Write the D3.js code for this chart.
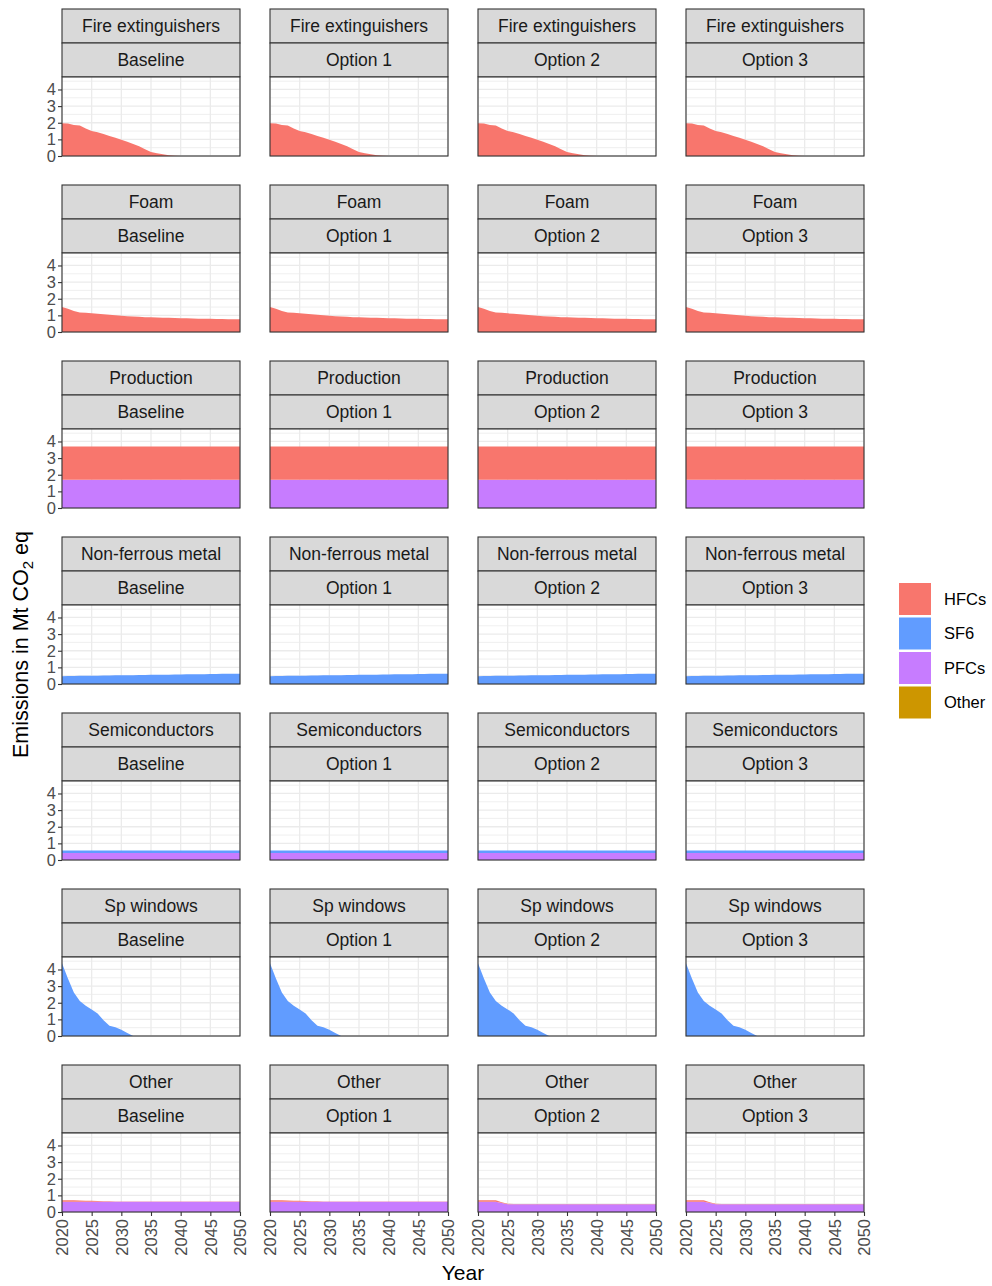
<!DOCTYPE html>
<html>
<head>
<meta charset="utf-8">
<script src="https://cdn.jsdelivr.net/npm/d3@7"></script>
<style>
  html, body { margin: 0; padding: 0; background: #fff; }
  svg { display: block; font-family: "Liberation Sans", Arial, sans-serif; }
</style>
</head>
<body>
<svg id="chart" width="992" height="1286"></svg>
<script>
// ---------------- DATA ----------------
const years = [2020,2021,2022,2023,2024,2025,2026,2027,2028,2029,2030,
               2031,2032,2033,2034,2035,2036,2037,2038,2039,2040,
               2041,2042,2043,2044,2045,2046,2047,2048,2049,2050];
const sectors = ["Fire extinguishers","Foam","Production","Non-ferrous metal","Semiconductors","Sp windows","Other"];
const scenarios = ["Baseline","Option 1","Option 2","Option 3"];
const gases = ["HFCs","SF6","PFCs","Other"];
const gasColors = ["#F8766D","#619CFF","#C77CFF","#CD9600"];
const xTicks = [2020,2025,2030,2035,2040,2045,2050];
const yTicks = [0,1,2,3,4];
const yMinor = [0.5,1.5,2.5,3.5,4.5];

// values by year (2020..2050)
const fireHFC = [1.97,1.95,1.86,1.83,1.65,1.50,1.43,1.32,1.21,1.09,0.97,
                 0.85,0.72,0.58,0.40,0.24,0.16,0.10,0.05,0.01,0,
                 0,0,0,0,0,0,0,0,0,0];
const foamHFC = [1.50,1.40,1.27,1.18,1.15,1.12,1.09,1.06,1.03,1.00,0.97,
                 0.95,0.93,0.91,0.89,0.88,0.87,0.86,0.85,0.84,0.83,
                 0.82,0.81,0.80,0.80,0.79,0.78,0.78,0.77,0.77,0.76];
const prodHFC = [2.0,2.0,2.0,2.0,2.0,2.0,2.0,2.0,2.0,2.0,2.0,
                 2.0,2.0,2.0,2.0,2.0,2.0,2.0,2.0,2.0,2.0,
                 2.0,2.0,2.0,2.0,2.0,2.0,2.0,2.0,2.0,2.0];
const prodPFC = [1.7,1.7,1.7,1.7,1.7,1.7,1.7,1.7,1.7,1.7,1.7,
                 1.7,1.7,1.7,1.7,1.7,1.7,1.7,1.7,1.7,1.7,
                 1.7,1.7,1.7,1.7,1.7,1.7,1.7,1.7,1.7,1.7];
const metalSF6 = [0.47,0.48,0.48,0.49,0.49,0.50,0.50,0.51,0.51,0.52,0.52,
                  0.53,0.53,0.54,0.54,0.55,0.55,0.56,0.56,0.57,0.57,
                  0.58,0.58,0.59,0.59,0.60,0.60,0.61,0.61,0.62,0.62];
const semiPFC = [0.42,0.42,0.42,0.42,0.42,0.42,0.42,0.42,0.42,0.42,0.42,
                 0.42,0.42,0.42,0.42,0.42,0.42,0.42,0.42,0.42,0.42,
                 0.42,0.42,0.42,0.42,0.42,0.42,0.42,0.42,0.42,0.42];
const semiSF6 = [0.15,0.15,0.15,0.15,0.15,0.15,0.15,0.15,0.15,0.15,0.15,
                 0.15,0.15,0.15,0.15,0.15,0.15,0.15,0.15,0.15,0.15,
                 0.15,0.15,0.15,0.15,0.15,0.15,0.15,0.15,0.15,0.15];
const windowSF6 = [4.37,3.45,2.62,2.10,1.82,1.60,1.35,0.95,0.62,0.52,0.38,
                   0.18,0,0,0,0,0,0,0,0,0,
                   0,0,0,0,0,0,0,0,0,0];
const otherPFC_base = [0.61,0.61,0.61,0.61,0.61,0.61,0.61,0.61,0.61,0.61,0.61,
                       0.61,0.61,0.61,0.61,0.61,0.61,0.61,0.61,0.61,0.61,
                       0.61,0.61,0.61,0.61,0.61,0.61,0.61,0.61,0.61,0.61];
const otherHFC_base = [0.10,0.10,0.09,0.08,0.07,0.06,0.05,0.04,0.03,0.02,0.02,
                       0.02,0.02,0.02,0.02,0.02,0.02,0.02,0.02,0.02,0.02,
                       0.02,0.02,0.02,0.02,0.02,0.02,0.02,0.02,0.02,0.02];
const otherPFC_opt = [0.61,0.61,0.61,0.61,0.54,0.47,0.47,0.47,0.47,0.47,0.47,
                      0.47,0.47,0.47,0.47,0.47,0.47,0.47,0.47,0.47,0.47,
                      0.47,0.47,0.47,0.47,0.47,0.47,0.47,0.47,0.47,0.47];
const otherHFC_opt = [0.10,0.10,0.10,0.10,0.05,0.02,0.01,0.01,0.01,0.01,0.01,
                      0.01,0.01,0.01,0.01,0.01,0.01,0.01,0.01,0.01,0.01,
                      0.01,0.01,0.01,0.01,0.01,0.01,0.01,0.01,0.01,0.01];
const zeros = [0,0,0,0,0,0,0,0,0,0,0,0,0,0,0,0,0,0,0,0,0,0,0,0,0,0,0,0,0,0,0];

// series per sector & scenario: {HFCs, SF6, PFCs, Other}
function seriesFor(sector, scenario) {
  switch (sector) {
    case "Fire extinguishers": return {HFCs: fireHFC, SF6: zeros, PFCs: zeros, Other: zeros};
    case "Foam": return {HFCs: foamHFC, SF6: zeros, PFCs: zeros, Other: zeros};
    case "Production": return {HFCs: prodHFC, SF6: zeros, PFCs: prodPFC, Other: zeros};
    case "Non-ferrous metal": return {HFCs: zeros, SF6: metalSF6, PFCs: zeros, Other: zeros};
    case "Semiconductors": return {HFCs: zeros, SF6: semiSF6, PFCs: semiPFC, Other: zeros};
    case "Sp windows": return {HFCs: zeros, SF6: windowSF6, PFCs: zeros, Other: zeros};
    case "Other":
      if (scenario === "Option 2" || scenario === "Option 3")
        return {HFCs: otherHFC_opt, SF6: zeros, PFCs: otherPFC_opt, Other: zeros};
      return {HFCs: otherHFC_base, SF6: zeros, PFCs: otherPFC_base, Other: zeros};
  }
}

// ---------------- LAYOUT ----------------
const svg = d3.select("#chart");
const panelW = 178, panelH = 79, stripH = 34;
const colX0 = 62, colStep = 208;
const rowY0 = 9, rowStep = 176;
const yMax = 4.75;

const x = d3.scaleLinear().domain([2020, 2050]).range([0, panelW]);
const y = d3.scaleLinear().domain([0, yMax]).range([panelH, 0]);
const color = d3.scaleOrdinal().domain(gases).range(gasColors);

const stackOrder = ["Other","PFCs","SF6","HFCs"]; // bottom -> top
const stack = d3.stack().keys(stackOrder);
const area = d3.area()
  .x(d => x(d.data.year))
  .y0(d => y(d[0]))
  .y1(d => y(d[1]));

sectors.forEach((sector, r) => {
  scenarios.forEach((scen, c) => {
    const gx = colX0 + c * colStep;
    const gy = rowY0 + r * rowStep;
    const g = svg.append("g").attr("transform", `translate(${gx},${gy})`);

    // strips
    [sector, scen].forEach((lab, i) => {
      g.append("rect")
        .attr("x", 0).attr("y", i * stripH)
        .attr("width", panelW).attr("height", stripH)
        .attr("fill", "#D9D9D9").attr("stroke", "#333333").attr("stroke-width", 1.1);
      g.append("text")
        .attr("x", panelW / 2).attr("y", i * stripH + stripH / 2)
        .attr("dy", "0.36em")
        .attr("text-anchor", "middle")
        .attr("font-size", 17.5)
        .attr("fill", "#1A1A1A")
        .text(lab);
    });

    const p = g.append("g").attr("transform", `translate(0,${2 * stripH})`);
    p.append("rect").attr("width", panelW).attr("height", panelH).attr("fill", "#fff");

    // grid
    p.selectAll(".ymin").data(yMinor.filter(v => v < yMax)).enter().append("line")
      .attr("x1", 0).attr("x2", panelW)
      .attr("y1", d => y(d)).attr("y2", d => y(d))
      .attr("stroke", "#EBEBEB").attr("stroke-width", 0.8);
    p.selectAll(".ymaj").data(yTicks).enter().append("line")
      .attr("x1", 0).attr("x2", panelW)
      .attr("y1", d => y(d)).attr("y2", d => y(d))
      .attr("stroke", "#EBEBEB").attr("stroke-width", 1.3);
    p.selectAll(".xmaj").data(xTicks).enter().append("line")
      .attr("y1", 0).attr("y2", panelH)
      .attr("x1", d => x(d)).attr("x2", d => x(d))
      .attr("stroke", "#EBEBEB").attr("stroke-width", 1.3);

    // data
    const s = seriesFor(sector, scen);
    const rows = years.map((yr, i) => ({
      year: yr, HFCs: s.HFCs[i], SF6: s.SF6[i], PFCs: s.PFCs[i], Other: s.Other[i]
    }));
    const layers = stack(rows);
    p.selectAll(".layer").data(layers).enter().append("path")
      .attr("d", area)
      .attr("fill", d => color(d.key));

    // border
    p.append("rect").attr("width", panelW).attr("height", panelH)
      .attr("fill", "none").attr("stroke", "#333333").attr("stroke-width", 1.1);

    if (c === 0) {
      const ya = p.append("g").call(d3.axisLeft(y).tickValues(yTicks).tickSize(4).tickPadding(2).tickFormat(d3.format("d")));
      ya.select(".domain").remove();
      ya.selectAll(".tick line").attr("stroke", "#333333").attr("stroke-width", 1.1);
      ya.selectAll(".tick text").attr("fill", "#4D4D4D").attr("font-size", 16.5)
        .attr("font-family", "Liberation Sans, Arial, sans-serif");
    }
    if (r === sectors.length - 1) {
      const xa = p.append("g").attr("transform", `translate(0,${panelH})`)
        .call(d3.axisBottom(x).tickValues(xTicks).tickSize(4).tickFormat(d3.format("d")));
      xa.select(".domain").remove();
      xa.selectAll(".tick line").attr("stroke", "#333333").attr("stroke-width", 1.1);
      xa.selectAll(".tick text")
        .attr("fill", "#4D4D4D").attr("font-size", 16.5)
        .attr("font-family", "Liberation Sans, Arial, sans-serif")
        .attr("transform", "rotate(-90)")
        .attr("text-anchor", "end")
        .attr("x", -7).attr("y", 0).attr("dy", "0.35em");
    }
  });
});

// axis titles
const panelsLeft = colX0, panelsRight = colX0 + 3 * colStep + panelW;
svg.append("text")
  .attr("x", (panelsLeft + panelsRight) / 2).attr("y", 1280)
  .attr("text-anchor", "middle").attr("font-size", 21).attr("fill", "#000")
  .text("Year");
const yt = svg.append("text")
  .attr("transform", `translate(28,${(rowY0 + 2 * stripH + rowY0 + 6 * rowStep + 2 * stripH + panelH) / 2}) rotate(-90)`)
  .attr("text-anchor", "middle").attr("font-size", 21.5).attr("fill", "#000");
yt.append("tspan").text("Emissions in Mt CO");
yt.append("tspan").attr("font-size", 15).attr("dy", 5).text("2");
yt.append("tspan").attr("dy", -5).text(" eq");

// legend
const leg = svg.append("g").attr("transform", "translate(899,583)");
gases.forEach((gname, i) => {
  const gy = i * 34.5;
  leg.append("rect").attr("x", 0).attr("y", gy).attr("width", 32).attr("height", 32)
    .attr("fill", color(gname));
  leg.append("text").attr("x", 45).attr("y", gy + 16).attr("dy", "0.36em")
    .attr("font-size", 16.5).attr("fill", "#000").text(gname);
});
</script>
</body>
</html>
